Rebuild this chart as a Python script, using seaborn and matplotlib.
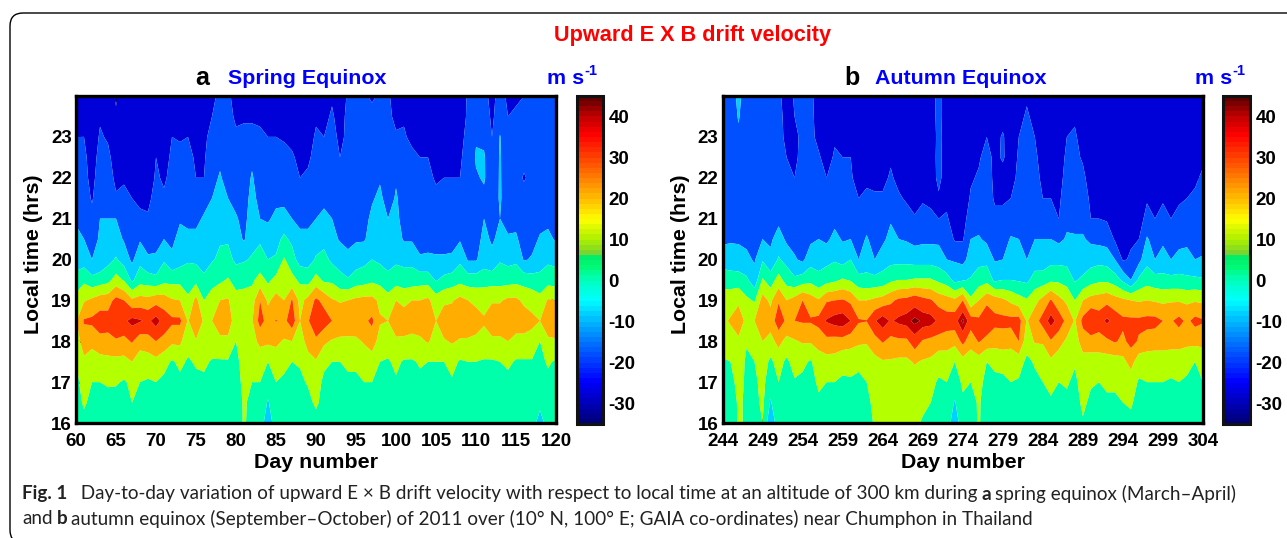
import numpy as np
import matplotlib
matplotlib.use("Agg")
import matplotlib.pyplot as plt
from matplotlib.colors import Normalize, LinearSegmentedColormap
from matplotlib.cm import ScalarMappable
from matplotlib.patches import FancyBboxPatch
from matplotlib.transforms import IdentityTransform
import seaborn as sns

W, H = 1287, 538

local_time = [16, 16.5, 17, 17.5, 18, 18.5, 19, 19.5, 20, 20.5, 21, 21.5, 22, 22.5, 23, 23.5, 24]

# one list per day, values at each local_time entry (m/s)
spring = {
    60: [6,7,8,10,15,19,14,3,-4,-8,-11,-13,-15,-17,-20,-22,-23],
    61: [8,11,13,18,25,31,19,8,-5,-10,-14,-15,-17,-18,-20,-23,-24],
    62: [6,8,10,15,23,32,22,3,-10,-13,-17,-21,-23,-24,-25,-25,-26],
    63: [6,7,10,16,27,35,25,5,-8,-9,-10,-13,-15,-17,-19,-21,-24],
    64: [6,7,11,17,27,34,26,7,-3,-7,-10,-14,-16,-18,-21,-23,-25],
    65: [5,6,11,17,29,37,33,14,1,-6,-10,-19,-22,-24,-30,-29,-31],
    66: [5,6,9,17,27,38,30,9,-4,-11,-14,-18,-21,-23,-25,-26,-27],
    67: [5,10,12,20,31,43,22,-2,-12,-15,-17,-20,-23,-24,-25,-26,-26],
    68: [5,7,10,15,24,41,24,6,-3,-11,-19,-21,-23,-24,-25,-26,-26],
    69: [5,6,9,15,26,38,23,5,-9,-13,-19,-22,-24,-25,-25,-26,-26],
    70: [6,7,10,17,30,44,26,3,-9,-12,-15,-17,-19,-20,-23,-24,-25],
    71: [6,7,8,13,27,36,25,7,-1,-10,-14,-19,-21,-22,-23,-24,-25],
    72: [6,7,8,9,22,32,21,7,-8,-12,-14,-16,-18,-19,-20,-22,-24],
    73: [5,6,8,12,22,32,20,7,-4,-7,-11,-13,-15,-17,-21,-23,-24],
    74: [5,6,7,9,13,19,12,5,-1,-8,-12,-14,-16,-18,-20,-22,-24],
    75: [5,6,8,11,19,30,23,7,-2,-8,-12,-15,-20,-21,-22,-23,-24],
    76: [5,6,8,12,15,18,10,2,-4,-6,-9,-13,-20,-21,-22,-23,-24],
    77: [5,6,7,9,16,20,14,7,-1,-5,-7,-10,-13,-15,-17,-20,-22],
    78: [5,6,7,9,17,27,20,8,2,-1,-5,-7,-9,-12,-14,-16,-18],
    79: [5,6,7,9,18,25,21,11,3,-1,-4,-10,-14,-16,-17,-18,-19],
    80: [5,6,7,8,10,15,14,6,-2,-6,-9,-13,-15,-17,-19,-21,-22],
    81: [11,11,12,13,15,16,14,7,-1,-11,-13,-14,-15,-16,-18,-21,-23],
    82: [7,8,10,13,17,19,15,8,1,-3,-5,-7,-9,-12,-18,-21,-22],
    83: [6,7,10,15,22,34,30,14,3,-1,-10,-13,-15,-16,-19,-21,-23],
    84: [-7,-1,5,10,22,26,18,8,0,-6,-11,-14,-16,-17,-20,-22,-23],
    85: [6,7,10,15,22,30.5,24,13,1,-3,-8,-12,-14,-16,-20,-22,-23],
    86: [5,6,8,13,19,27,20,15,11,2,-6,-13,-15,-17,-21,-23,-24],
    87: [5,6,8,10,20,36,31,13,4,-2,-10,-14,-17,-19,-22,-23,-25],
    88: [5,6,8,11,15,20,17,8,-4,-8,-12,-17,-20,-22,-24,-25,-26],
    89: [6,7,11,16,24,29,23,6,-4,-8,-12,-16,-19,-21,-23,-24,-25],
    90: [6,12,14,19,28,38,32,14,1,-4,-10,-14,-16,-18,-19,-21,-23],
    91: [5,6,8,12,22,35,27,8,3,-3,-8,-12,-15,-17,-20,-22,-23],
    92: [5,6,8,10,19,30,21,8,-2,-7,-10,-14,-15,-16,-17,-19,-21],
    93: [5,6,7,10,18,27,19,3,-4,-11,-14,-16,-18,-20,-22,-23,-24],
    94: [5,6,8,12,18,26,20,1,-8,-12,-14,-15,-16,-17,-18,-18,-19],
    95: [5,6,8,12,18,27,22,5,-5,-11,-13,-14,-15,-16,-17,-18,-19],
    96: [5,6,10,14,21,28,23,6,-3,-11,-13,-14,-15,-16,-17,-18,-19],
    97: [5,6,10,15,25,32,23,8,0,-6,-8,-11,-13,-15,-16,-18,-21],
    98: [5,6,8,10,16,21,18,7,-2,-6,-7,-8,-11,-13,-15,-17,-19],
    99: [5,6,7,9,15,20,14,3,-4,-8,-10,-14,-15,-16,-17,-18,-19],
    100: [5,6,9,12,18,27,20,6,-2,-6,-8,-9,-11,-13,-19,-22,-23],
    101: [5,6,7,9,18,26,17,5,-3,-11,-13,-14,-16,-17,-19,-21,-23],
    102: [5,6,7,9,17,25,20,5,-3,-11,-13,-15,-16,-18,-22,-23,-24],
    103: [5,6,8,11,18,26,20,6,-9,-13,-15,-17,-18,-20,-23,-24,-25],
    104: [5,6,8,10,21,27,22,6,-9,-12,-14,-16,-18,-20,-22,-24,-25],
    105: [5,6,8,10,16,20,15,-1,-9,-13,-15,-18,-21,-22,-23,-24,-25],
    106: [5,6,8,10,19,26,18,3,-9,-13,-15,-17,-20,-21,-22,-23,-24],
    107: [5,6,9,13,21,26,19,5,-9,-12,-15,-17,-20,-21,-22,-23,-24],
    108: [5,6,7,9,19,26,23,7,-2,-11,-15,-17,-20,-21,-22,-23,-24],
    109: [5,6,8,10,19,25,20,5,-11,-14,-14,-15,-16,-17,-18,-19,-19],
    110: [5,6,8,10,18,24,18,5,-11,-13,-14,-13,-11,-9,-11,-15,-18],
    111: [5,6,7,9,17,21,17,6,-5,-8,-10,-12,-9,-9,-12,-14,-17],
    112: [5,6,7,9,18,26,19,6,-8,-11,-13,-15,-16,-17,-20,-22,-23],
    113: [5,6,7,10,18,26,19,6,-1,-8,-10,-9,-9,-9,-9.5,-14,-16],
    114: [5,6,7,12,20,27,22,6,-3,-9,-13,-15,-16,-17,-18,-20,-22],
    115: [5,6,7,9,17,25,22,7,-2,-9,-12,-14,-16,-17,-18,-19,-21],
    116: [5,6,7,9,17,25,18,6,-11,-13,-15,-16,-21,-17,-18,-19,-20],
    117: [5,6,7,9,17,22,17,4,-9,-13,-15,-16,-17,-18,-18,-19,-19],
    118: [-5,3,6,8,10,20,14,2,-3,-9,-13,-14,-15,-16,-17,-18,-19],
    119: [5,6,8,11,18,27,21,6,-2,-8,-12,-14,-15,-16,-17,-18,-19],
    120: [5,6,7,9,19,26,20,5,-3,-11,-13,-15,-16,-17,-18,-19,-20],
}

autumn = {
    244: [5,6,7,9,14,18,15,6,-5,-12,-14,-15,-16,-16,-17,-17,-18],
    245: [5,6,8,10,16,21,16,5,-6,-11,-14,-15,-16,-16,-17,-17,-18],
    246: [11,11,12,13,18,26,18,5,-7,-11,-14,-15,-16,-16,-12,-9,-6],
    247: [9,9,9,9,10.5,17,12,2,-8,-12,-14,-15,-16,-16,-17,-17,-18],
    248: [6,7,8,10,15,20,9,-6,-11,-13,-14,-15,-16,-16,-17,-17,-18],
    249: [10,12,13,15,20,27,24,11,-1,-10,-13,-15,-16,-16,-17,-17,-18],
    250: [-8,-1,4,8,17,24,18,5,-7,-12,-14,-15,-16,-16,-17,-17,-18],
    251: [6,8,10,14,23,36,29,14,1,-5,-13,-15,-16,-16,-17,-17,-18],
    252: [5,6,7,8,17,28,20,6,-3,-12,-14,-16,-18,-20,-22,-23,-24],
    253: [6,7,9,14,19,30,24,2,-9,-13,-16,-18,-20,-22,-22,-20,-19],
    254: [5,6,8,12,21,31,30,5,-12,-13,-15,-16,-17,-17,-18,-18,-18],
    255: [5,6,8,9,21,31,25,7,-4,-12,-14,-15,-16,-17,-18,-18,-18],
    256: [6,9,11,15,24,33,21,3,-4,-10,-13,-15,-17,-19,-22,-23,-24],
    257: [6,8,10,16,27,41,29,6,-3,-12,-15,-17,-20,-23,-24,-25,-26],
    258: [6,8,10,16,26,44,30,8,-1,-7,-13,-15,-18,-19,-21,-23,-25],
    259: [6,7,9,12,26,45.5,31,11,-4,-11,-14,-16,-19,-20,-22,-24,-25],
    260: [6,7,9,13,24,40,28,9,0,-10,-15,-17,-19,-20,-22,-24,-25],
    261: [6,7,9,11,22,31,20,4,-10,-14,-17,-20,-23,-24,-25,-26,-26],
    262: [6,8,10,14,21,30.3,20,3,-5,-9,-14,-19,-21,-22,-23,-24,-25],
    263: [11,12,13,17,26,39,22,3,-10,-14,-16,-19,-22,-23,-24,-25,-26],
    264: [12,12,14,19,31,45,24,4,-5,-12,-16,-19,-22,-23,-24,-25,-26],
    265: [12,12,14,19,27,39,28,8,-3,-7,-11,-15,-19,-21,-22,-23,-24],
    266: [12,13,14,18,28,42,32,10,-3,-10,-16,-19,-22,-23,-24,-25,-26],
    267: [12,13,14,18,28,44,33,10,-3,-11,-17,-21,-23,-24,-25,-26,-26],
    268: [12,13,15,21,36,48,36,11,-4,-13,-19,-24,-25,-26,-26,-27,-27],
    269: [9,12,15,19,29,45,33,11,-4,-12,-17,-21,-24,-25,-26,-26,-27],
    270: [9,10,12,18,27,44,31,11,-4,-12,-18,-22,-24,-25,-26,-26,-26],
    271: [8,8,9,13,26,38,26,8,-5,-12,-20,-21,-18,-17,-17,-16,-16],
    272: [6,8,10,14,25,35,24,5,-10,-14,-19,-22,-24,-25,-26,-26,-26],
    273: [-7,-1,7,10,23,36,22,-3,-11,-21,-24,-25,-26,-26,-26,-26,-27],
    274: [7,9,11,16,33,48,30,-1,-13,-21,-24,-25,-26,-26,-27,-27,-27],
    275: [6,7,10,14,24,35,12,1,-6,-10,-15,-19,-21,-22,-23,-24,-25],
    276: [11,11,12,15,31,32,20,5,-3,-9,-14,-16,-19,-21,-23,-24,-25],
    277: [5,6,8,10,26,40,27,7,-3,-12,-14,-16,-16,-17,-20,-21,-23],
    278: [5,6,8,12,24,33,25,-2,-11,-15,-18,-21,-22,-22,-23,-24,-25],
    279: [5,6,8,13,25,33,22,0,-10,-15,-18,-21,-23,-19,-19,-23,-24],
    280: [5,6,10,13,24,33,18,0,-6,-9,-16,-20,-23,-24,-25,-25,-26],
    281: [5,6,9,14,30,34,14,-1,-7,-10,-14,-17,-18,-19,-20,-22,-23],
    282: [5,6,7,8,14,19,11,-2,-10,-14,-17,-17,-17,-17,-18,-19,-21],
    283: [5,6,8,11,21,26,17,4,-5,-10,-13,-16,-17,-18,-20,-22,-24],
    284: [5,6,10,14,21,34,23,5,-6,-10,-15,-20,-22,-24,-25,-25,-26],
    285: [6,9,12,18,29,44,31,8,-3,-10,-17,-20,-22,-24,-25,-26,-26],
    286: [5,7,10,14,24,36,23,8,-3,-12,-20,-22,-24,-25,-26,-26,-26],
    287: [5,8,11,14,18,27,18,6,-3,-9,-12,-14,-16,-18,-20,-22,-23],
    288: [5,6,8,11,15,19,10,-1,-5,-9,-13,-16,-17,-18,-19,-21,-23],
    289: [9,12,14,16,25,33,20,2,-6,-9,-13,-15,-18,-21,-23,-25,-26],
    290: [6,8,11,15,26,40,24,6,-4,-12,-20,-22,-24,-25,-26,-26,-27],
    291: [6,7,10,15,26,35,25,8,-3,-13,-20,-22,-24,-25,-26,-26,-26],
    292: [6,9,11,15,28,42,27,8,-4,-14,-21,-24,-25,-26,-26,-26,-27],
    293: [6,9,11,15,31,36,24,5,-10,-21,-24,-26,-26,-27,-27,-27,-27],
    294: [7,10,12,17,28,32,22,-2,-21,-24,-25,-26,-26,-27,-27,-27,-27],
    295: [8,11,14,24,33,32,20,-10,-19,-21,-24,-26,-26,-27,-27,-27,-27],
    296: [6,7,9,14,29,32,19,2,-13,-20,-24,-26,-26,-27,-27,-27,-27],
    297: [6,7,10,14,26,33,20,6,-3,-9,-17,-21,-24,-25,-26,-26,-26],
    298: [6,7,10,14,25,33,19,4,-10,-14,-20,-22,-24,-25,-26,-26,-26],
    299: [6,7,10,14,25,30,18,3,-6,-12,-17,-21,-24,-25,-26,-26,-26],
    300: [6,7,9,14,24,29,19,3,-10,-15,-20,-22,-24,-25,-26,-26,-26],
    301: [6,7,10,14,24,33,19,3,-7,-13,-18,-21,-24,-25,-26,-26,-26],
    302: [6,7,9,12,23,28,18,2,-7,-12,-17,-20,-23,-25,-26,-26,-26],
    303: [6,7,8,10,23,33,19,2,-10,-15,-17,-19,-21,-24,-26,-25,-22],
    304: [6,8,10,13,23,31,18,1,-9,-14,-17,-19,-19,-21,-22,-23,-24],
}

levels = [-60, -30, -20, -10, 0, 10, 20, 30, 40, 46, 60]
band_colors = ["#00008c", "#0000d8", "#0050ff", "#00d0ff", "#00ffaa",
               "#b4ff00", "#ffae00", "#ff3700", "#c80000", "#800000"]
spring_ticks = list(range(60, 121, 5))
autumn_ticks = list(range(244, 305, 5))
hour_ticks = [16, 17, 18, 19, 20, 21, 22, 23]
bar_ticks = [-30, -20, -10, 0, 10, 20, 30, 40]

# colour bar of the figure, value and colour
bar_stops = [(-35, "#000078"), (-30, "#0000be"), (-25, "#0000ff"), (-20, "#003cff"),
             (-15, "#0078ff"), (-10, "#00b9ff"), (-5, "#00ffff"), (0, "#00ffbe"),
             (3, "#00fa78"), (6.4, "#00eb64"), (6.6, "#78d232"), (10, "#aaf000"),
             (15, "#ffff00"), (20, "#ffbe00"), (25, "#ff8200"), (30, "#ff4600"),
             (36, "#ff0000"), (40, "#c80000"), (45, "#640000")]

sns.set_theme(style="ticks")
plt.rcParams["font.family"] = ["Liberation Sans", "DejaVu Sans"]
plt.rcParams["font.weight"] = "bold"
plt.rcParams["axes.unicode_minus"] = False

fig = plt.figure(figsize=(W / 100, H / 100), dpi=100)
fig.patch.set_facecolor("white")

bar_cmap = LinearSegmentedColormap.from_list(
    "drift", [((v + 35) / 80, c) for v, c in bar_stops], N=64)


def px_axes(x0, y0, x1, y1):
    return fig.add_axes([x0 / W, 1 - y1 / H, (x1 - x0) / W, (y1 - y0) / H])


def px_text(x, y, s, **kw):
    kw.setdefault("va", "center")
    return fig.text(x / W, 1 - y / H, s, **kw)


def draw_panel(table, ticks, box, bar_box):
    days = sorted(table)
    z = np.array([table[d] for d in days]).T
    ax = px_axes(*box)
    ax.contourf(days, local_time, z, levels=levels, colors=band_colors, antialiased=True)
    ax.set_xlim(days[0], days[-1])
    ax.set_ylim(16, 24)
    ax.set_xticks(ticks)
    ax.set_yticks(hour_ticks)
    ax.tick_params(direction="in", length=3.5, width=2, top=True, right=True,
                   labelsize=13.5, colors="black")
    ax.tick_params(axis="x", pad=7)
    ax.tick_params(axis="y", pad=3)
    for s in ax.spines.values():
        s.set_linewidth(2.4)
        s.set_color("black")
    ax.set_xlabel("Day number", fontsize=15.4, fontweight="bold", color="black")
    ax.set_ylabel("Local time (hrs)", fontsize=15.4, fontweight="bold", color="black")
    ax.xaxis.set_label_coords(0.5, -40 / 327, transform=ax.transAxes)
    ax.xaxis.label.set_va("center")
    ax.yaxis.set_label_coords(-42 / 480, 0.515, transform=ax.transAxes)
    ax.yaxis.label.set_va("center")

    cax = px_axes(*bar_box)
    cb = fig.colorbar(ScalarMappable(Normalize(-35, 45), bar_cmap), cax=cax)
    cb.set_ticks(bar_ticks)
    cb.outline.set_linewidth(2.2)
    cb.outline.set_edgecolor("#111111")
    cax.tick_params(direction="in", length=3, width=2, left=True, right=True,
                    labelsize=13.5, pad=4, colors="black")


draw_panel(spring, spring_ticks, (76, 96, 556, 423), (577, 96, 603, 424))
draw_panel(autumn, autumn_ticks, (722.5, 96, 1203, 423), (1223, 96, 1250, 424))

# rounded frame, runs off the page on the right and bottom
fig.add_artist(FancyBboxPatch((10, H - 543), 1400, 530,
                              boxstyle="round,pad=0,rounding_size=13",
                              transform=IdentityTransform(), fc="none", ec="black",
                              lw=1.0))

px_text(692, 36, "Upward E X B drift velocity", color="#ff0000", fontsize=15.6, ha="center")
px_text(202, 78, "a", color="black", fontsize=18, ha="center")
px_text(228, 79, "Spring Equinox", color="#0000ff", fontsize=15.4)
px_text(547, 79, "m s", color="#0000ff", fontsize=15.4)
px_text(584, 71, "-1", color="#0000ff", fontsize=10.5)
px_text(852, 78, "b", color="black", fontsize=18, ha="center")
px_text(875, 79, "Autumn Equinox", color="#0000ff", fontsize=15.4)
px_text(1195, 79, "m s", color="#0000ff", fontsize=15.4)
px_text(1232, 71, "-1", color="#0000ff", fontsize=10.5)

caption_lines = [
    (494, [("Fig. 1", True), ("  Day-to-day variation of upward E × B drift velocity with respect to local time at an altitude of 300 km during", False),
           ("a", True), ("spring equinox (March–April)", False)]),
    (519, [("and", False), ("b", True), ("autumn equinox (September–October) of 2011 over (10° N, 100° E; GAIA co-ordinates) near Chumphon in Thailand", False)]),
]
rend = fig.canvas.get_renderer()
for y, parts in caption_lines:
    x = 22
    for s, heavy in parts:
        t = px_text(x, y, s, fontsize=13.6, family=["Lato", "DejaVu Sans"],
                    fontweight="bold" if heavy else "normal", color="#222222")
        x += t.get_window_extent(rend).width + 4

fig.savefig("out.png", dpi=100)
